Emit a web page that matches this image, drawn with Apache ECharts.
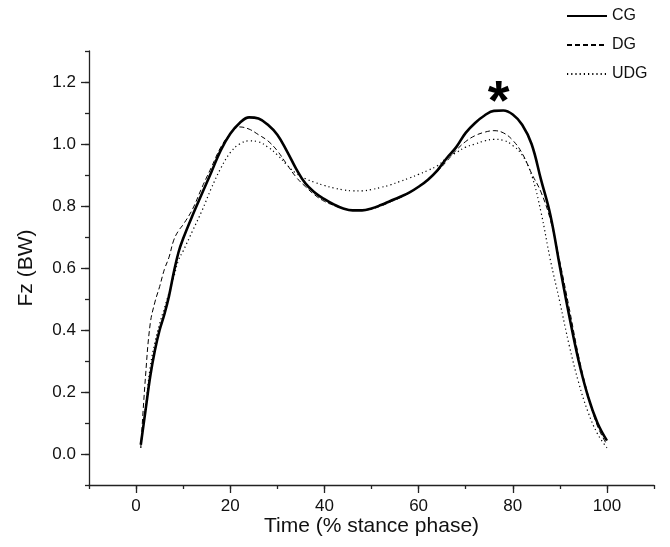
<!DOCTYPE html>
<html>
<head>
<meta charset="utf-8">
<script src="https://cdn.jsdelivr.net/npm/echarts@6/dist/echarts.min.js"></script>
<style>
html, body { margin: 0; padding: 0; background: #fff; }
#chart1 { width: 670px; height: 547px; }
</style>
</head>
<body>
<div id="chart1"></div>
<script>
// % stance phase
var stance = [1, 2, 3, 4, 5, 6, 7, 8, 9, 10, 12, 14, 16, 18, 20, 22, 24, 26, 28, 30,
    32, 34, 36, 38, 40, 42, 44, 46, 48, 50, 52, 54, 56, 58, 60, 62, 64, 66, 68, 70,
    72, 74, 76, 78, 80, 82, 84, 86, 88, 90, 92, 94, 96, 98, 100];

var cg = [0.03, 0.14, 0.25, 0.335, 0.40, 0.45, 0.51, 0.585, 0.65, 0.695, 0.77, 0.84, 0.91, 0.98, 1.033, 1.068, 1.086, 1.082, 1.062, 1.03,
    0.978, 0.92, 0.872, 0.843, 0.822, 0.805, 0.792, 0.786, 0.786, 0.792, 0.803, 0.816, 0.829, 0.843, 0.862, 0.885, 0.915, 0.955, 0.99, 1.036,
    1.068, 1.092, 1.107, 1.108, 1.095, 1.062, 1.0, 0.885, 0.77, 0.605, 0.445, 0.30, 0.185, 0.10, 0.043];

var dg = [0.02, 0.25, 0.42, 0.49, 0.54, 0.595, 0.635, 0.69, 0.72, 0.74, 0.79, 0.86, 0.925, 0.99, 1.033, 1.055, 1.048, 1.03, 1.01, 0.978,
    0.935, 0.893, 0.862, 0.835, 0.815, 0.802, 0.792, 0.787, 0.787, 0.79, 0.80, 0.813, 0.826, 0.842, 0.862, 0.886, 0.912, 0.945, 0.98, 1.008,
    1.027, 1.038, 1.043, 1.036, 1.012, 0.97, 0.905, 0.845, 0.755, 0.62, 0.47, 0.315, 0.19, 0.09, 0.03];

var udg = [0.02, 0.15, 0.28, 0.36, 0.42, 0.47, 0.52, 0.57, 0.625, 0.655, 0.72, 0.785, 0.858, 0.922, 0.972, 1.0, 1.01, 1.007, 0.99, 0.965,
    0.933, 0.905, 0.888, 0.876, 0.866, 0.858, 0.852, 0.849, 0.849, 0.853, 0.86, 0.868, 0.879, 0.89, 0.902, 0.915, 0.93, 0.955, 0.972, 0.99,
    1.0, 1.01, 1.015, 1.012, 0.995, 0.965, 0.9, 0.78, 0.625, 0.49, 0.35, 0.23, 0.135, 0.065, 0.02];

var xLabels = [0, 20, 40, 60, 80, 100];
var yLabels = [0, 0.2, 0.4, 0.6, 0.8, 1.0, 1.2];

function pairs(ys) {
    var out = [];
    for (var i = 0; i < stance.length; i++) {
        out.push([stance[i], ys[i]]);
    }
    return out;
}

var font = 'Liberation Sans, Arial, sans-serif';
var axisColor = '#222';

var chart = echarts.init(document.getElementById('chart1'));

var option = {
    animation: false,
    backgroundColor: '#fff',
    grid: { left: 89, right: 16, top: 51, bottom: 62 },
    legend: {
        orient: 'vertical',
        left: 561,
        top: 3,
        itemWidth: 40,
        itemHeight: 14,
        itemGap: 13,
        itemStyle: { opacity: 0 },
        textStyle: { fontFamily: font, fontSize: 16, color: '#111' },
        data: ['CG', 'DG', 'UDG']
    },
    xAxis: [
        {   // minor ticks every 10
            type: 'value', min: -10, max: 110, interval: 10,
            axisLine: { show: true, onZero: false, lineStyle: { color: axisColor, width: 1.3 } },
            axisTick: { show: true, inside: false, length: 4, lineStyle: { color: axisColor, width: 1.3 } },
            axisLabel: { show: false },
            splitLine: { show: false }
        },
        {   // major ticks + labels
            type: 'value', min: -10, max: 110, position: 'bottom',
            axisLine: { show: false, onZero: false },
            axisTick: { show: true, length: 8, customValues: xLabels, lineStyle: { color: axisColor, width: 1.3 } },
            axisLabel: { show: true, customValues: xLabels, margin: 13, fontFamily: font, fontSize: 17, color: '#111' },
            splitLine: { show: false },
            name: 'Time (% stance phase)',
            nameLocation: 'middle',
            nameGap: 31,
            nameMoveOverlap: false,
            nameTextStyle: { fontFamily: font, fontSize: 21, color: '#111' }
        }
    ],
    yAxis: [
        {
            type: 'value', min: -0.1, max: 1.3, interval: 0.1,
            axisLine: { show: true, onZero: false, lineStyle: { color: axisColor, width: 1.3 } },
            axisTick: { show: true, length: 4, lineStyle: { color: axisColor, width: 1.3 } },
            axisLabel: { show: false },
            splitLine: { show: false }
        },
        {
            type: 'value', min: -0.1, max: 1.3, position: 'left',
            axisLine: { show: false, onZero: false },
            axisTick: { show: true, length: 8, customValues: yLabels, lineStyle: { color: axisColor, width: 1.3 } },
            axisLabel: {
                show: true, customValues: yLabels, margin: 13, fontFamily: font, fontSize: 17, color: '#111',
                formatter: function (v) { return v.toFixed(1); }
            },
            splitLine: { show: false },
            name: 'Fz (BW)',
            nameLocation: 'middle',
            nameGap: 52,
            nameMoveOverlap: false,
            nameTextStyle: { fontFamily: font, fontSize: 21, color: '#111' }
        }
    ],
    series: [
        {
            name: 'CG', type: 'line', smooth: 0.4, symbol: 'none',
            xAxisIndex: 0, yAxisIndex: 0,
            lineStyle: { color: '#000', width: 2.6, type: 'solid' },
            itemStyle: { color: '#000' },
            data: pairs(cg),
            markPoint: {
                symbol: 'circle', symbolSize: 0,
                label: {
                    show: true, formatter: '*', position: 'inside',
                    fontFamily: font, fontSize: 56, fontWeight: 'bold', color: '#000'
                },
                data: [{ coord: [77, 1.13] }]
            },
            z: 3
        },
        {
            name: 'DG', type: 'line', smooth: 0.4, symbol: 'none',
            xAxisIndex: 0, yAxisIndex: 0,
            lineStyle: { color: '#000', width: 1, type: [5, 3] },
            itemStyle: { color: '#000' },
            data: pairs(dg)
        },
        {
            name: 'UDG', type: 'line', smooth: 0.4, symbol: 'none',
            xAxisIndex: 0, yAxisIndex: 0,
            lineStyle: { color: '#000', width: 1.2, type: [1.2, 3] },
            itemStyle: { color: '#000' },
            data: pairs(udg)
        }
    ]
};

chart.setOption(option);
</script>
</body>
</html>
